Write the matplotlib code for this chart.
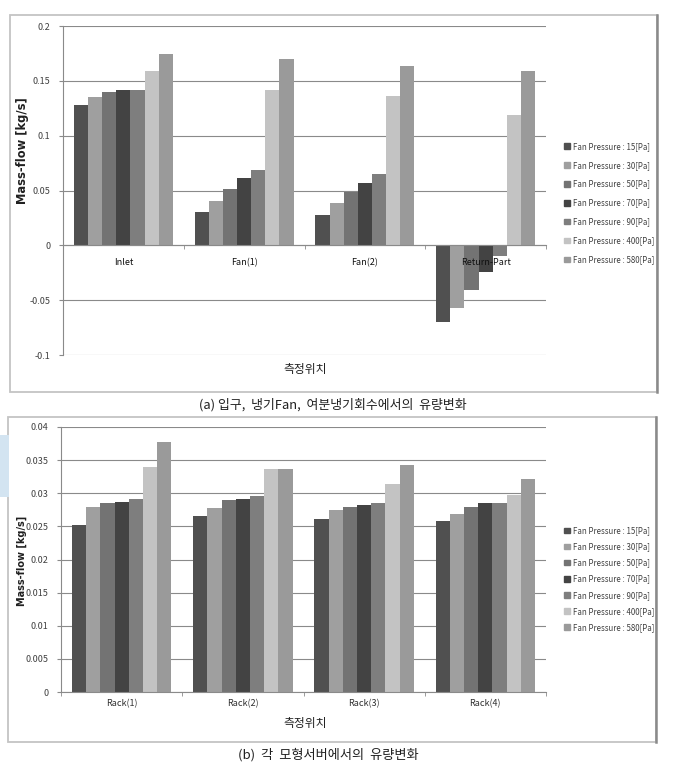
import numpy as np
import matplotlib.pyplot as plt
from matplotlib.patches import Rectangle, Patch

plt.rcParams['font.family'] = ['Noto Sans CJK KR', 'DejaVu Sans']

series_labels = ['Fan Pressure : 15[Pa]', 'Fan Pressure : 30[Pa]',
                 'Fan Pressure : 50[Pa]', 'Fan Pressure : 70[Pa]',
                 'Fan Pressure : 90[Pa]', 'Fan Pressure : 400[Pa]',
                 'Fan Pressure : 580[Pa]']
bar_colors = ['#505050', '#9f9f9f', '#737373', '#434343',
              '#7e7e7e', '#c3c3c3', '#9a9a9a']

# (a) inlet / fans / return part, one row per category, one value per series
top_categories = ['Inlet', 'Fan(1)', 'Fan(2)', 'Return-Part']
inlet = [0.128, 0.135, 0.140, 0.142, 0.142, 0.159, 0.1745]
fan1 = [0.030, 0.040, 0.051, 0.061, 0.069, 0.142, 0.170]
fan2 = [0.028, 0.0386, 0.0486, 0.0568, 0.0647, 0.1365, 0.1635]
return_part = [-0.0696, -0.0568, -0.0404, -0.024, -0.0097, 0.119, 0.159]
top_values = [inlet, fan1, fan2, return_part]
top_ticks = [-0.1, -0.05, 0, 0.05, 0.1, 0.15, 0.2]
top_ticklabels = ['-0.1', '-0.05', '0', '0.05', '0.1', '0.15', '0.2']

# (b) each rack
bottom_categories = ['Rack(1)', 'Rack(2)', 'Rack(3)', 'Rack(4)']
rack1 = [0.0252, 0.0280, 0.0285, 0.0287, 0.0292, 0.0339, 0.0377]
rack2 = [0.0265, 0.0277, 0.0290, 0.0292, 0.0296, 0.0337, 0.0337]
rack3 = [0.0261, 0.0274, 0.0280, 0.0283, 0.0286, 0.0314, 0.0343]
rack4 = [0.0258, 0.0269, 0.0280, 0.0286, 0.0286, 0.0297, 0.0321]
bottom_values = [rack1, rack2, rack3, rack4]
bottom_ticks = [0, 0.005, 0.01, 0.015, 0.02, 0.025, 0.03, 0.035, 0.04]
bottom_ticklabels = ['0', '0.005', '0.01', '0.015', '0.02', '0.025',
                     '0.03', '0.035', '0.04']

W, H = 679, 772
fig = plt.figure(figsize=(W / 100, H / 100), dpi=100)


def fx(px):
    return px / W


def fy(py):
    return 1 - py / H


def frame(x0, y0, x1, y1):
    fig.patches.append(Rectangle((fx(x0), fy(y1)), fx(x1) - fx(x0), fy(y0) - fy(y1),
                                 transform=fig.transFigure, fill=False,
                                 edgecolor='#c4c4c4', lw=1.3))
    fig.lines.append(plt.Line2D([fx(x1), fx(x1)], [fy(y1), fy(y0)],
                                transform=fig.transFigure, color='#8a8a8a', lw=1.8))


def draw_panel(ax, categories, values, ticks, ticklabels, ylabel_size, pad):
    n = len(series_labels)
    w = 0.82 / n
    x = np.arange(len(categories))
    vals = np.array(values)
    # gridlines behind the bars, axis labels above them
    for t in ticks:
        ax.axhline(t, color='#8a8a8a', lw=0.8, zorder=0.5)
    for i in range(n):
        ax.bar(x + (i - (n - 1) / 2) * w, vals[:, i], width=w,
               color=bar_colors[i], edgecolor='none', zorder=1)
    ax.set_xlim(-0.5, len(categories) - 0.5)
    ax.set_ylim(ticks[0], ticks[-1])
    ax.set_yticks(ticks)
    ax.set_yticklabels(ticklabels)
    ax.set_xticks(x)
    ax.set_xticklabels(categories)
    ax.set_xticks(np.arange(len(categories) + 1) - 0.5, minor=True)
    ax.tick_params(axis='x', which='major', length=0, pad=pad,
                   labelsize=6.5, labelcolor='#303030')
    ax.tick_params(axis='x', which='minor', length=3, color='#8a8a8a',
                   direction='out')
    ax.tick_params(axis='y', length=3, color='#8a8a8a', labelsize=6.5,
                   labelcolor='#404040', pad=6)
    for s in ['top', 'right']:
        ax.spines[s].set_visible(False)
    for s in ['left', 'bottom']:
        ax.spines[s].set_color('#8a8a8a')
        ax.spines[s].set_linewidth(0.8)
    ax.set_ylabel('Mass-flow [kg/s]', fontsize=ylabel_size, fontweight='bold',
                  family=['DejaVu Sans'], color='#202020')


# ---- panel (a)
frame(10, 15, 657, 392)
ax1 = fig.add_axes([fx(63), fy(355), fx(546) - fx(63), fy(26) - fy(355)])
draw_panel(ax1, top_categories, top_values, top_ticks, top_ticklabels, 8.3, 9)
ax1.spines['bottom'].set_position(('data', 0))
ax1.tick_params(axis='x', which='major', labelcolor='#101010')
ax1.yaxis.set_label_coords((fx(29) - fx(63)) / (fx(546) - fx(63)), 0.62)
fig.text(fx(305), fy(370), '측정위치', ha='center', va='center', fontsize=8.5,
         color='#202020')
handles = [Patch(color=c) for c in bar_colors]
fig.legend(handles, series_labels, loc='center left',
           bbox_to_anchor=(fx(557), fy(203)), frameon=False, fontsize=5.7,
           handlelength=0.7, handleheight=0.7, handletextpad=0.4,
           labelspacing=1.25, labelcolor='#404040')
fig.text(fx(333), fy(405), '(a) 입구,  냉기Fan,  여분냉기회수에서의  유량변화',
         ha='center', va='center', fontsize=9.3, color='#202020')

# ---- panel (b)
frame(8, 417, 656, 742)
fig.patches.append(Rectangle((0, fy(497)), fx(9), fy(435) - fy(497),
                             transform=fig.transFigure, color='#d3e4f1', lw=0))
ax2 = fig.add_axes([fx(61), fy(692), fx(546) - fx(61), fy(427) - fy(692)])
draw_panel(ax2, bottom_categories, bottom_values, bottom_ticks,
           bottom_ticklabels, 7, 5)
ax2.yaxis.set_label_coords((fx(27) - fx(61)) / (fx(546) - fx(61)), 0.494)
fig.text(fx(305), fy(723), '측정위치', ha='center', va='center', fontsize=8.5,
         color='#202020')
fig.legend(handles, series_labels, loc='center left',
           bbox_to_anchor=(fx(557), fy(579)), frameon=False, fontsize=5.7,
           handlelength=0.7, handleheight=0.7, handletextpad=0.4,
           labelspacing=0.9, labelcolor='#404040')
fig.text(fx(328), fy(755), '(b)  각  모형서버에서의  유량변화',
         ha='center', va='center', fontsize=9.5, color='#202020')

fig.savefig('out.png', dpi=100)
